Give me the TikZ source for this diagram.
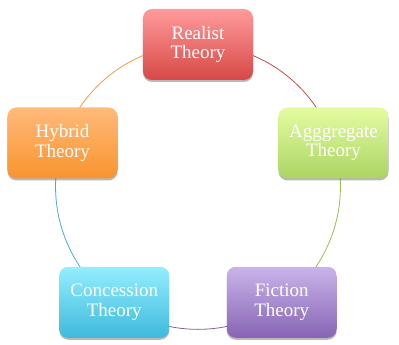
\documentclass[tikz,border=0pt]{standalone}
\usepackage{fontspec}
\setmainfont{Liberation Serif}
\usetikzlibrary{shadows,backgrounds,positioning}
\definecolor{RealTop}  {RGB}{255,155,155}
\definecolor{RealBot}  {RGB}{214, 72, 70}
\definecolor{RealLine} {RGB}{192, 80, 77}
\definecolor{AggTop}   {RGB}{228,252,160}
\definecolor{AggBot}   {RGB}{172,212,100}
\definecolor{AggLine}  {RGB}{155,187, 89}
\definecolor{FicTop}   {RGB}{202,180,234}
\definecolor{FicBot}   {RGB}{134,100,180}
\definecolor{FicLine}  {RGB}{128,100,162}
\definecolor{ConTop}   {RGB}{148,238,254}
\definecolor{ConBot}   {RGB}{ 62,186,220}
\definecolor{ConLine}  {RGB}{ 75,172,198}
\definecolor{HybTop}   {RGB}{255,186,122}
\definecolor{HybBot}   {RGB}{249,148, 46}
\definecolor{HybLine}  {RGB}{247,150, 70}
\tikzset{
  %% theory boxes
  thbox/.style={rectangle,rounded corners=9pt,
                minimum width=110pt,minimum height=71pt,inner sep=2pt,
                text=white,font=\fontsize{19}{19.5}\selectfont,align=center,
                drop shadow={shadow xshift=0pt,shadow yshift=-2pt,
                             opacity=0.28,fill=black}},
  realbox/.style={thbox,top color=RealTop,bottom color=RealBot},
  aggbox/.style={thbox,top color=AggTop,bottom color=AggBot},
  ficbox/.style={thbox,top color=FicTop,bottom color=FicBot},
  conbox/.style={thbox,top color=ConTop,bottom color=ConBot},
  hybbox/.style={thbox,top color=HybTop,bottom color=HybBot},
  %% ring arcs
  ringarc/.style={line width=0.8pt,bend left=36,looseness=0.94},
}

\begin{document}
\begin{tikzpicture}[x=1pt,y=1pt]
    \useasboundingbox (-198,-158) rectangle (201,187);

    %% five theories on the ring
    \node[realbox] (realist)    at (90:142.5)  {Realist\\Theory};
    \node[aggbox]  (aggregate)  at (18:142.5)  {Agggregate\\Theory};
    \node[ficbox]  (fiction)    at (-54:142.5) {Fiction\\Theory};
    \node[conbox]  (concession) at (-126:142.5){Concession\\Theory};
    \node[hybbox]  (hybrid)     at (162:142.5) {Hybrid\\Theory};

    %% ring, behind the boxes
    \begin{scope}[on background layer]
      \draw[ringarc,color=RealLine] (realist.center)    to (aggregate.center);
      \draw[ringarc,color=AggLine]  (aggregate.center)  to (fiction.center);
      \draw[ringarc,color=FicLine]  (fiction.center)    to (concession.center);
      \draw[ringarc,color=ConLine]  (concession.center) to (hybrid.center);
      \draw[ringarc,color=HybLine]  (hybrid.center)     to (realist.center);
    \end{scope}
\end{tikzpicture}
\end{document}
